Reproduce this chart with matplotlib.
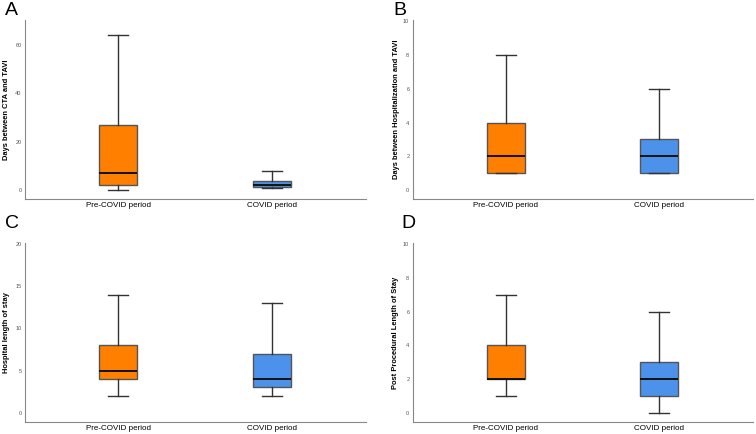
import matplotlib
matplotlib.use("Agg")
import matplotlib.pyplot as plt

plt.rcParams['font.family'] = ['Liberation Sans', 'DejaVu Sans']

groups = ["Pre-COVID period", "COVID period"]
colors = ["#FF7F00", "#4C92EA"]

panels = ["A", "B", "C", "D"]
ylabels = ["Days between CTA and TAVI",
           "Days between Hospitalization and TAVI",
           "Hospital length of stay",
           "Post Procedural Length of Stay"]
yticks = [[0, 20, 40, 60], [0, 2, 4, 6, 8, 10], [0, 5, 10, 15, 20], [0, 2, 4, 6, 8, 10]]
ylims = [(-3.7, 70.3), (-0.53, 10.06), (-1.07, 20.1), (-0.53, 10.06)]

# five-number summaries: whislo, q1, med, q3, whishi
A_pre = [0, 2, 7, 27, 64]
A_cov = [1, 1.2, 2.3, 4, 8]
B_pre = [1, 1, 2, 4, 8]
B_cov = [1, 1, 2, 3, 6]
C_pre = [2, 4, 5, 8, 14]
C_cov = [2, 3, 4, 7, 13]
D_pre = [1, 2, 2, 4, 7]
D_cov = [0, 1, 2, 3, 6]
data = [(A_pre, A_cov), (B_pre, B_cov), (C_pre, C_cov), (D_pre, D_cov)]

fig = plt.figure(figsize=(7.56, 4.34), dpi=100)
rects = [(0.033, 0.541, 0.451, 0.413), (0.546, 0.541, 0.450, 0.413),
         (0.033, 0.028, 0.451, 0.412), (0.546, 0.028, 0.450, 0.412)]
labpos = [(0.006, 0.995), (0.520, 0.995), (0.006, 0.505), (0.531, 0.505)]
ylabx = [-0.044, -0.038, -0.044, -0.041]

for i in range(4):
    ax = fig.add_axes(rects[i])
    stats = []
    for g, v in zip(groups, data[i]):
        stats.append(dict(label=g, whislo=v[0], q1=v[1], med=v[2], q3=v[3], whishi=v[4], fliers=[]))
    bp = ax.bxp(stats, positions=[0, 1], widths=0.247, capwidths=0.13, patch_artist=True,
                showfliers=False,
                boxprops=dict(edgecolor="#555555", linewidth=1.0),
                whiskerprops=dict(color="#333333", linewidth=1.0),
                capprops=dict(color="#333333", linewidth=1.0),
                medianprops=dict(color="#111111", linewidth=1.4))
    for patch, c in zip(bp["boxes"], colors):
        patch.set_facecolor(c)
    ax.set_xlim(-0.605, 1.61)
    ax.set_ylim(*ylims[i])
    ax.set_yticks(yticks[i])
    ax.tick_params(axis="y", length=0, labelsize=4, labelcolor="#555555", pad=2.5)
    ax.tick_params(axis="x", length=0, labelsize=5.8, pad=2)
    ax.set_ylabel(ylabels[i], fontsize=5.4, fontweight="bold")
    ax.yaxis.set_label_coords(ylabx[i], 0.5)
    for s in ["top", "right"]:
        ax.spines[s].set_visible(False)
    for s in ["left", "bottom"]:
        ax.spines[s].set_color("#888888")
        ax.spines[s].set_linewidth(0.8)
    fig.text(labpos[i][0], labpos[i][1], panels[i], fontsize=14, va="top", ha="left")

fig.savefig("out.png", dpi=100)
